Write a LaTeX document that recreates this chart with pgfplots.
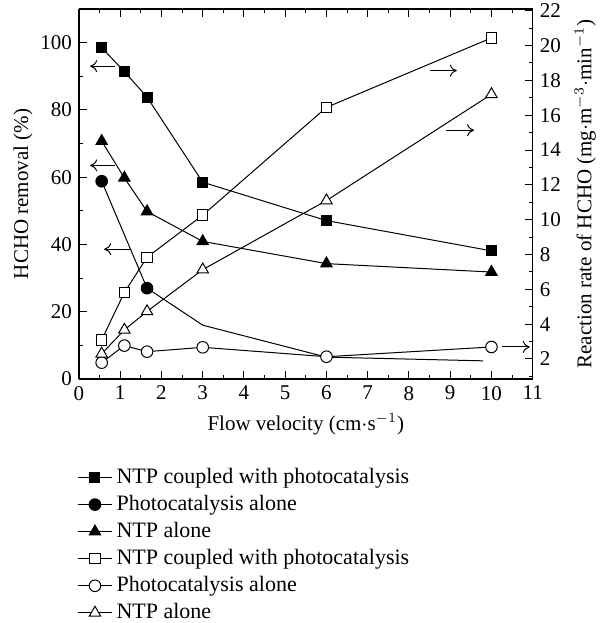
\documentclass[border=0pt]{standalone}
\usepackage{fontspec}
\setmainfont{Liberation Serif}
\usepackage{pgfplots}
\pgfplotsset{compat=1.18}
\usetikzlibrary{arrows.meta}
\begin{document}
\begin{tikzpicture}
\useasboundingbox (-39.5pt,-122pt) rectangle (260.5pt,189.5pt);
\pgfplotsset{
  every axis/.append style={
    scale only axis, width=226.85pt, height=185pt, at={(0,0)}, anchor=south west,
    xmin=0, xmax=11, tick align=inside, major tick length=4pt, minor tick length=2pt,
    axis line style={line width=0.6pt}, every tick/.style={black, line width=0.5pt},
    /pgf/number format/assume math mode=true,
    tick label style={font=\fontsize{10.5}{12}\selectfont},
    label style={font=\fontsize{10.5}{12}\selectfont},
  },
}
\begin{axis}[
  ymin=0, ymax=110, axis y line*=left,
  ytick={0,20,...,100}, minor ytick={10,30,...,110},
  xtick={0,...,11}, minor xtick={0.5,1.5,...,10.5},
  xlabel={Flow velocity (cm$\cdot$s$^{-1}$)},
  ylabel={HCHO removal (\%)},
  ylabel style={xshift=0pt, yshift=-3pt},
]
\addplot[black, line width=0.5pt, mark=square*, mark size=2.5pt] coordinates {(0.55,98.5)(1.1,91.4)(1.65,83.8)(3,58.5)(6,47.1)(10,38.1)};
\addplot[black, line width=0.5pt, mark=*, mark size=2.9pt, mark indices={1,2}] coordinates {(0.55,58.8)(1.65,27.0)(3,16.0)(6,6.5)(9.8,5.4)};
\addplot[black, line width=0.5pt, mark=triangle*, mark size=3.3pt] coordinates {(0.55,70.7)(1.1,59.8)(1.65,49.8)(3,40.9)(6,34.3)(10,31.8)};
\draw[-{Computer Modern Rightarrow[length=3.5pt,width=6pt]}, line width=0.5pt] (axis cs:0.87,93) -- (axis cs:0.27,93);
\draw[-{Computer Modern Rightarrow[length=3.5pt,width=6pt]}, line width=0.5pt] (axis cs:0.87,63.5) -- (axis cs:0.27,63.5);
\draw[-{Computer Modern Rightarrow[length=3.5pt,width=6pt]}, line width=0.5pt] (axis cs:1.24,38.6) -- (axis cs:0.61,38.6);
\end{axis}
\begin{axis}[
  ymin=0.85, ymax=22.1, axis y line*=right, axis x line=none,
  ytick={2,4,...,22}, minor ytick={1,3,...,21},
  ylabel={Reaction rate of HCHO (mg$\cdot$m$^{-3}\cdot$min$^{-1}$)},
  legend style={draw=none, fill=none, at={(0,0)}, anchor=north west, xshift=-4pt, yshift=-40.5pt,
    font=\fontsize{11}{12}\selectfont, row sep=0.4pt, /tikz/column 2/.style={column sep=3.5pt}},
  legend cell align=left,
]
\addlegendimage{black, line width=0.5pt, mark=square*, mark size=2.5pt}
\addlegendentry{NTP coupled with photocatalysis}
\addlegendimage{black, line width=0.5pt, mark=*, mark size=2.9pt}
\addlegendentry{Photocatalysis alone}
\addlegendimage{black, line width=0.5pt, mark=triangle*, mark size=3.3pt}
\addlegendentry{NTP alone}
\addplot[black, line width=0.5pt, mark=square*, mark size=2.6pt, mark options={fill=white}] coordinates {(0.55,3.1)(1.1,5.82)(1.65,7.84)(3,10.26)(6,16.45)(10,20.44)};
\addlegendentry{NTP coupled with photocatalysis}
\addplot[black, line width=0.5pt, mark=*, mark size=2.9pt, mark options={fill=white}] coordinates {(0.55,1.79)(1.1,2.77)(1.65,2.42)(3,2.67)(6,2.13)(10,2.69)};
\addlegendentry{Photocatalysis alone}
\addplot[black, line width=0.5pt, mark=triangle*, mark size=3.3pt, mark options={fill=white}] coordinates {(0.55,2.3)(1.1,3.67)(1.65,4.73)(3,7.13)(6,11.1)(10,17.2)};
\addlegendentry{NTP alone}
\draw[-{Computer Modern Rightarrow[length=3.5pt,width=6pt]}, line width=0.5pt] (axis cs:8.5,18.56) -- (axis cs:9.16,18.56);
\draw[-{Computer Modern Rightarrow[length=3.5pt,width=6pt]}, line width=0.5pt] (axis cs:8.91,15.14) -- (axis cs:9.58,15.14);
\draw[-{Computer Modern Rightarrow[length=3.5pt,width=6pt]}, line width=0.5pt] (axis cs:10.25,2.69) -- (axis cs:10.93,2.69);
\end{axis}
\end{tikzpicture}
\end{document}
